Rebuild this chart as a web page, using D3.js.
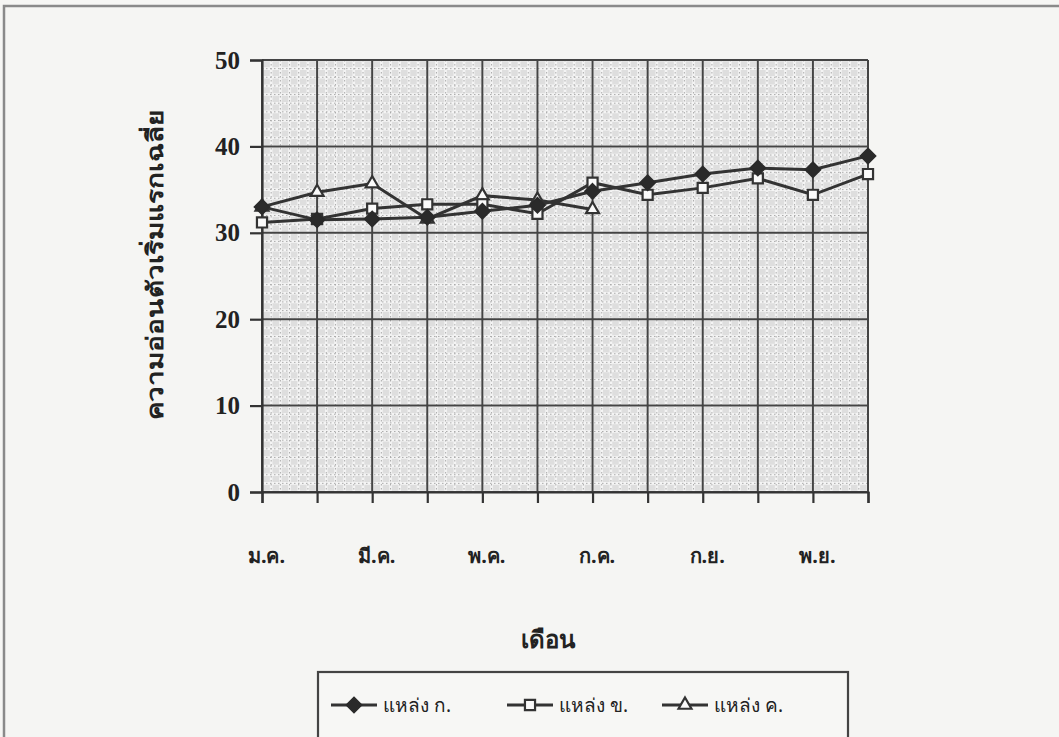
<!DOCTYPE html>
<html>
<head>
<meta charset="utf-8">
<script src="https://cdn.jsdelivr.net/npm/d3@7"></script>
<style>
  html, body { margin: 0; padding: 0; background: #f6f6f4; }
  svg { display: block; }
  text { font-family: "Liberation Serif", "Noto Sans", serif; font-weight: bold; fill: #222; }
</style>
</head>
<body>
<svg id="chart" width="1059" height="737"></svg>
<script>
// Months (Thai abbreviations); only every other one is labelled on the axis
const months = ["ม.ค.", "ก.พ.", "มี.ค.", "เม.ย.", "พ.ค.", "มิ.ย.", "ก.ค.", "ส.ค.", "ก.ย.", "ต.ค.", "พ.ย.", "ธ.ค."];
const labelledMonths = ["ม.ค.", "มี.ค.", "พ.ค.", "ก.ค.", "ก.ย.", "พ.ย."];
const yTicks = [0, 10, 20, 30, 40, 50];

// Average initial softness per source
const sourceA = [33.0, 31.5, 31.6, 31.8, 32.5, 33.2, 34.8, 35.8, 36.8, 37.5, 37.3, 38.9];
const sourceB = [31.2, 31.6, 32.8, 33.3, 33.3, 32.2, 35.8, 34.4, 35.2, 36.3, 34.4, 36.8];
const sourceC = [33.0, 34.7, 35.7, 31.6, 34.3, 33.8, 32.7];

const seriesNames = ["แหล่ง ก.", "แหล่ง ข.", "แหล่ง ค."];
const seriesMarkers = ["diamond", "square", "triangle"];
const seriesData = [sourceA, sourceB, sourceC];

const svg = d3.select("#chart");
const W = 1059, H = 737;
const plot = { left: 262, right: 868, top: 60, bottom: 492 };

// Page frame
svg.append("rect").attr("x", 4).attr("y", 6).attr("width", W + 10).attr("height", H + 10)
  .attr("fill", "#f5f5f3").attr("stroke", "#8a8a8a").attr("stroke-width", 2.5);

const x = d3.scalePoint().domain(months).range([plot.left, plot.right]);
const y = d3.scaleLinear().domain([0, 50]).range([plot.bottom, plot.top]);

// Plot background
svg.append("rect").attr("x", plot.left).attr("y", plot.top)
  .attr("width", plot.right - plot.left).attr("height", plot.bottom - plot.top)
  .attr("fill", "#dedede");

// Fine grid
const g = svg.append("g");
const step = x.step();
const minorX = d3.range(0, (months.length - 1) * 6 + 1).map(i => plot.left + i * step / 6);
g.selectAll("line.mx").data(minorX).join("line")
  .attr("x1", d => d).attr("x2", d => d).attr("y1", plot.top).attr("y2", plot.bottom)
  .attr("stroke", "#f4f4f4").attr("stroke-width", 2.6);
g.selectAll("line.my").data(d3.range(0, 51)).join("line")
  .attr("x1", plot.left).attr("x2", plot.right).attr("y1", d => y(d)).attr("y2", d => y(d))
  .attr("stroke", "#f4f4f4").attr("stroke-width", 2.6);
g.selectAll("line.mx2").data(minorX).join("line")
  .attr("x1", d => d).attr("x2", d => d).attr("y1", plot.top).attr("y2", plot.bottom)
  .attr("stroke", "#a4a4a4").attr("stroke-width", 0.9).attr("stroke-dasharray", "1.5,2.5");
g.selectAll("line.my2").data(d3.range(0, 51)).join("line")
  .attr("x1", plot.left).attr("x2", plot.right).attr("y1", d => y(d)).attr("y2", d => y(d))
  .attr("stroke", "#a4a4a4").attr("stroke-width", 0.9).attr("stroke-dasharray", "1.5,2.5");

// Major grid
g.selectAll("line.gx").data(months).join("line")
  .attr("x1", d => x(d)).attr("x2", d => x(d)).attr("y1", plot.top).attr("y2", plot.bottom)
  .attr("stroke", "#444").attr("stroke-width", 2);
g.selectAll("line.gy").data(yTicks).join("line")
  .attr("x1", plot.left).attr("x2", plot.right).attr("y1", d => y(d)).attr("y2", d => y(d))
  .attr("stroke", "#444").attr("stroke-width", 2);

// Axes
const yAxis = d3.axisLeft(y).tickValues(yTicks).tickSize(12).tickPadding(10).tickFormat(d3.format("d"));
const ya = svg.append("g").attr("transform", `translate(${plot.left},0)`).call(yAxis);
ya.select(".domain").attr("stroke", "#333").attr("stroke-width", 2.2);
ya.selectAll(".tick line").attr("stroke", "#333").attr("stroke-width", 2.2);
ya.selectAll(".tick text").attr("font-size", 25).attr("fill", "#2a2a2a")
  .style("font-family", "Liberation Serif").style("font-weight", "bold");

const xAxis = d3.axisBottom(x).tickSize(11).tickFormat(d => labelledMonths.includes(d) ? d : "").tickPadding(46);
const xa = svg.append("g").attr("transform", `translate(0,${plot.bottom})`).call(xAxis);
xa.select(".domain").attr("stroke", "#333").attr("stroke-width", 2.2);
xa.selectAll(".tick line").attr("stroke", "#333").attr("stroke-width", 2.2);
xa.selectAll(".tick text").attr("font-size", 20).attr("fill", "#2a2a2a")
  .attr("dx", 4)
  .style("font-family", "Noto Sans, sans-serif").style("font-weight", "bold");

// Axis titles
svg.append("text").attr("x", 548).attr("y", 648).attr("text-anchor", "middle")
  .attr("font-size", 24).style("font-family", "Noto Sans, sans-serif").text("เดือน");
svg.append("text")
  .attr("transform", "translate(163,265) rotate(-90)")
  .attr("text-anchor", "middle").attr("font-size", 23)
  .attr("textLength", 310).attr("lengthAdjust", "spacingAndGlyphs")
  .style("font-family", "Noto Sans, sans-serif")
  .text("ความอ่อนตัวเริ่มแรกเฉลี่ย");

// Marker shapes
function marker(sel, type) {
  if (type === "diamond") {
    sel.append("path").attr("d", d3.symbol(d3.symbolDiamond2, 150)())
      .attr("fill", "#2a2a2a").attr("stroke", "#2a2a2a").attr("stroke-width", 1.5);
  } else if (type === "square") {
    sel.append("path").attr("d", d3.symbol(d3.symbolSquare2, 130)())
      .attr("fill", "#fafafa").attr("stroke", "#333").attr("stroke-width", 2.2);
  } else {
    sel.append("path").attr("d", d3.symbol(d3.symbolTriangle2, 120)())
      .attr("fill", "#fafafa").attr("stroke", "#333").attr("stroke-width", 2.2);
  }
}

const line = d3.line().x((d, i) => x(months[i])).y(d => y(d));
// draw lines back to front: C, B, A
[2, 1, 0].forEach(k => {
  svg.append("path").datum(seriesData[k]).attr("d", line)
    .attr("fill", "none").attr("stroke", "#333").attr("stroke-width", 3);
});
[2, 1, 0].forEach(k => {
  seriesData[k].forEach((v, i) => {
    const m = svg.append("g").attr("transform", `translate(${x(months[i])},${y(v)})`);
    marker(m, seriesMarkers[k]);
  });
});

// Legend
const lg = svg.append("g");
lg.append("rect").attr("x", 318).attr("y", 672).attr("width", 530).attr("height", 80)
  .attr("fill", "#f7f7f5").attr("stroke", "#444").attr("stroke-width", 2.2);
const legendX = [331, 507, 662];
seriesNames.forEach((name, k) => {
  const lx = legendX[k], ly = 705;
  lg.append("line").attr("x1", lx).attr("x2", lx + 46).attr("y1", ly).attr("y2", ly)
    .attr("stroke", "#333").attr("stroke-width", 3);
  marker(lg.append("g").attr("transform", `translate(${lx + 23},${ly})`), seriesMarkers[k]);
  lg.append("text").attr("x", lx + 52).attr("y", ly + 7).attr("font-size", 19)
    .style("font-family", "Noto Sans, sans-serif").style("font-weight", "normal").text(name);
});
</script>
</body>
</html>
